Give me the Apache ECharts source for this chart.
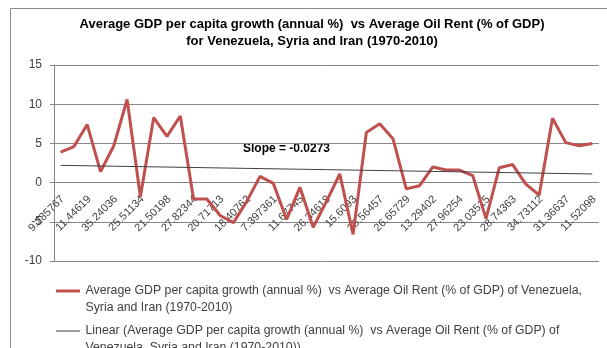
<!DOCTYPE html>
<html>
<head>
<meta charset="utf-8">
<script src="https://cdn.jsdelivr.net/npm/echarts@6/dist/echarts.min.js"></script>
<style>
  html, body { margin: 0; padding: 0; background: #fff; }
  #chart { width: 607px; height: 348px; }
</style>
</head>
<body>
<div id="chart"></div>
<script>
// oil rent (% of GDP) categories - only every other label is readable in the source
var categories = [
  '9.285767', '', '11.44619', '', '35.24036', '', '25.51134', '', '21.50198', '',
  '27.82344', '', '20.71713', '', '18.40762', '', '7.397361', '', '11.67745', '',
  '26.34618', '', '15.6093', '', '25.56457', '', '26.65729', '', '13.29402', '',
  '27.96254', '', '23.03515', '', '28.74363', '', '34.73112', '', '31.36637', '',
  '11.52098'
]
// average GDP per capita growth (annual %)
var growth = [
  3.9, 4.6, 7.4, 1.4, 4.7, 10.6, -1.8, 8.3, 5.9, 8.5,
  -2.1, -2.1, -4.2, -5.1, -2.4, 0.8, -0.1, -4.7, -0.6, -5.7,
  -2.4, 1.1, -6.6, 6.4, 7.5, 5.6, -0.8, -0.4, 2.0, 1.6,
  1.6, 0.9, -4.6, 1.9, 2.3, -0.2, -1.6, 8.2, 5.1, 4.7,
  5.0
]
// linear trend, value at first and last category
var trendEnds = [2.2, 1.1]
var yTicks = { min: -10, max: 15, interval: 5 }

var seriesName = 'Average GDP per capita growth (annual %)  vs Average Oil Rent (% of GDP) of Venezuela, Syria and Iran (1970-2010)'
var trendName = 'Linear (Average GDP per capita growth (annual %)  vs Average Oil Rent (% of GDP) of Venezuela, Syria and Iran (1970-2010))'
var legendLines = {}
legendLines[seriesName] = ['Average GDP per capita growth (annual %)  vs Average Oil Rent (% of GDP) of Venezuela,', 'Syria and Iran (1970-2010)']
legendLines[trendName] = ['Linear (Average GDP per capita growth (annual %)  vs Average Oil Rent (% of GDP) of', 'Venezuela, Syria and Iran (1970-2010))']

var font = 'Liberation Sans'
var gridColor = '#868686'
var red = '#C0504D'
var trendColor = '#404040'

var chart = echarts.init(document.getElementById('chart'))
chart.setOption({
  animation: false,
  graphic: [
    {
      type: 'rect',
      silent: true,
      shape: { x: 10.5, y: 8.5, width: 640, height: 400 },
      style: { fill: 'none', stroke: '#8c8c8c', lineWidth: 1 }
    },
    {
      type: 'text',
      silent: true,
      style: {
        text: 'Average GDP per capita growth (annual %)  vs Average Oil Rent (% of GDP)\nfor Venezuela, Syria and Iran (1970-2010)',
        x: 312,
        y: 16,
        align: 'center',
        verticalAlign: 'top',
        lineHeight: 17,
        fontFamily: font,
        fontSize: 13,
        fontWeight: 'bold',
        fill: '#000'
      }
    },
    {
      type: 'text',
      left: 243,
      top: 143,
      style: {
        text: 'Slope = -0.0273',
        fontFamily: font,
        fontSize: 12,
        fontWeight: 'bold',
        fill: '#000'
      }
    }
  ],
  legend: {
    orient: 'vertical',
    left: 51,
    top: 260.5,
    height: 200,
    itemWidth: 25,
    itemHeight: 3,
    itemGap: -11,
    itemStyle: { borderWidth: 0 },
    data: [
      { name: seriesName, icon: 'path://M0,0H24V3H0Z' },
      { name: trendName, icon: 'path://M0,0H0.01V3H0ZM0,1H24V2H0Z' }
    ],
    // blank first line keeps the icon level with the first text line
    formatter: function (name) {
      return '\n' + legendLines[name].join('\n')
    },
    textStyle: {
      fontFamily: font,
      fontSize: 12.3,
      color: '#404040',
      lineHeight: 17
    }
  },
  grid: {
    left: 54,
    right: 8,
    top: 65,
    bottom: 87
  },
  xAxis: {
    type: 'category',
    data: categories,
    boundaryGap: true,
    position: 'bottom',
    offset: -78.4,
    axisLine: { onZero: false, lineStyle: { color: gridColor, width: 1 } },
    axisTick: { interval: 0, length: 4, alignWithLabel: false, lineStyle: { color: gridColor } },
    axisLabel: {
      interval: 1,
      rotate: 45,
      margin: 17,
      padding: [0, -3, 0, 0],
      fontFamily: font,
      fontSize: 11,
      color: '#404040'
    }
  },
  yAxis: {
    type: 'value',
    min: yTicks.min,
    max: yTicks.max,
    interval: yTicks.interval,
    axisLine: { show: true, lineStyle: { color: gridColor, width: 1 } },
    axisTick: { show: true, length: 4, lineStyle: { color: gridColor } },
    axisLabel: {
      margin: 12,
      fontFamily: font,
      fontSize: 12,
      color: '#404040'
    },
    splitLine: { lineStyle: { color: gridColor, width: 1 } }
  },
  series: [
    {
      name: seriesName,
      type: 'line',
      data: growth,
      symbol: 'none',
      lineStyle: { color: red, width: 3 },
      itemStyle: { color: red }
    },
    {
      name: trendName,
      type: 'line',
      data: [[0, trendEnds[0]], [categories.length - 1, trendEnds[1]]],
      symbol: 'none',
      lineStyle: { color: trendColor, width: 1 },
      itemStyle: { color: trendColor }
    }
  ]
})
</script>
</body>
</html>
